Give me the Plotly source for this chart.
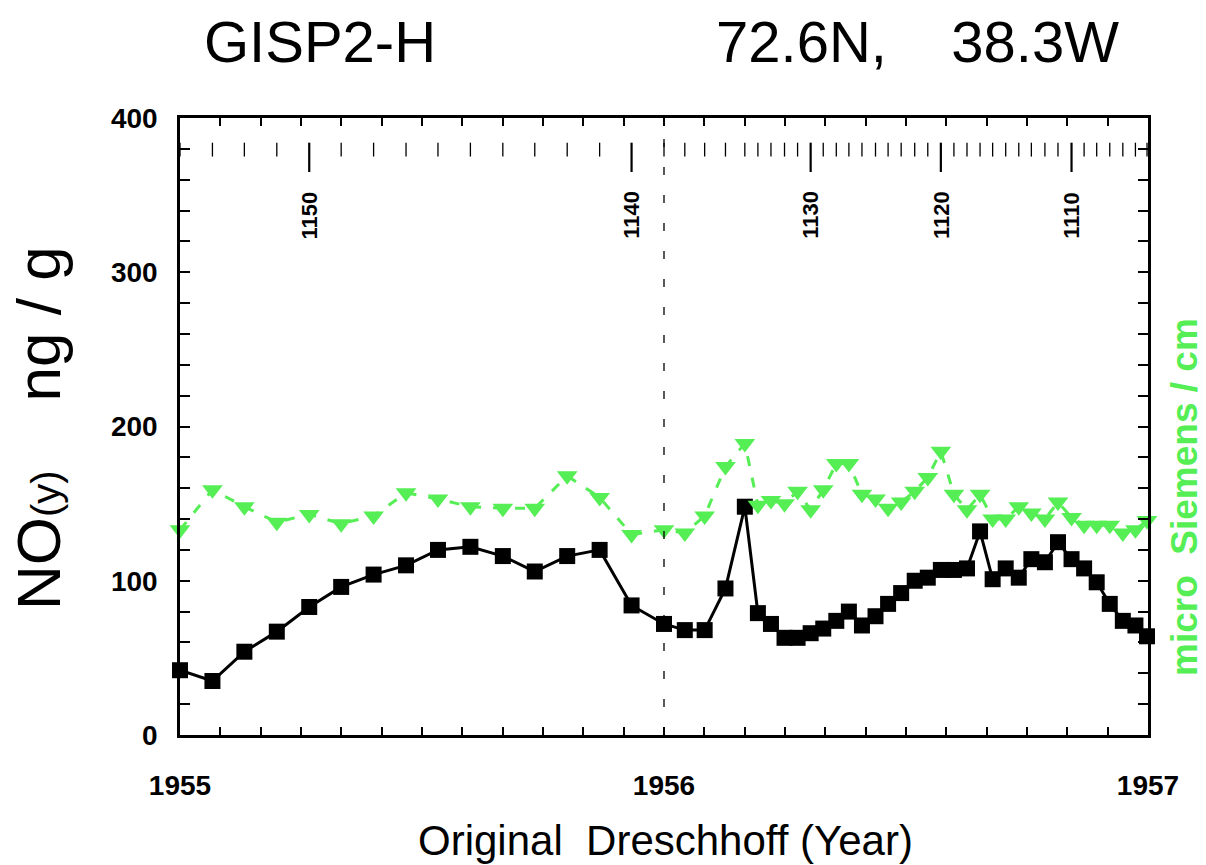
import plotly.graph_objects as go

# ---- data ----
dates = [1955.000, 1955.067, 1955.133, 1955.200, 1955.267, 1955.333, 1955.400, 1955.467,
         1955.533, 1955.600, 1955.667, 1955.733, 1955.800, 1955.867, 1955.933, 1956.000,
         1956.043, 1956.084, 1956.127, 1956.167, 1956.194, 1956.221, 1956.249, 1956.276,
         1956.303, 1956.329, 1956.356, 1956.382, 1956.409, 1956.437, 1956.463, 1956.490,
         1956.518, 1956.545, 1956.572, 1956.599, 1956.626, 1956.653, 1956.679, 1956.706,
         1956.733, 1956.759, 1956.787, 1956.814, 1956.842, 1956.868, 1956.894, 1956.921,
         1956.948, 1956.974, 1956.998]

ages = [1154, 1153, 1152, 1151, 1150, 1149, 1148, 1147, 1146, 1145, 1144, 1143, 1142,
        1141, 1140, 1139, 1138, 1137, 1136, 1135, 1134, 1133, 1132, 1131, 1130, 1129,
        1128, 1127, 1126, 1125, 1124, 1123, 1122, 1121, 1120, 1119, 1118, 1117, 1116,
        1115, 1114, 1113, 1112, 1111, 1110, 1109, 1108, 1107, 1106, 1105, 1104]

noy = [42, 35, 54, 67, 83, 96, 104, 110, 120, 122, 116, 106, 116, 120, 84, 72,
       68, 68, 95, 148, 79, 72, 63, 63, 66, 69, 74, 80, 71, 77, 85, 92, 100, 102,
       107, 107, 108, 132, 101, 108, 102, 114, 112, 125, 114, 108, 99, 85, 74, 71, 64]

conductivity = [133, 159, 148, 138, 143, 137, 142, 157, 153, 148, 147, 147, 168, 154, 130, 133,
                131, 142, 174, 189, 149, 152, 150, 158, 146, 159, 176, 176, 156, 153, 147,
                151, 158, 167, 184, 156, 146, 156, 140, 140, 148, 144, 140, 151, 141, 136,
                136, 136, 131, 133, 139]

year_ticks = [1955, 1956, 1957]
year_labels = ["1955", "1956", "1957"]

GREEN = "#55ee55"
FONT = "Liberation Sans, Arial, sans-serif"

W, H = 1206, 865
L, R, T, B = 180, 58, 118, 130
PW, PH = W - L - R, H - T - B


def px(x):
    return (x - L) / PW


def py(y):
    return (H - B - y) / PH


fig = go.Figure()

fig.add_trace(go.Scatter(
    x=dates, y=noy, mode="lines+markers",
    line=dict(color="black", width=3),
    marker=dict(symbol="square", size=16, color="black"),
    cliponaxis=False, showlegend=False))

fig.add_trace(go.Scatter(
    x=dates, y=conductivity, mode="lines+markers",
    line=dict(color=GREEN, width=3, dash="10px,12px"),
    marker=dict(symbol="triangle-down", size=18, color=GREEN),
    cliponaxis=False, showlegend=False))

shapes = []
annotations = []

# age (depth-scale) tick marks inside plot
for d, a in zip(dates, ages):
    major = (a % 10 == 0)
    shapes.append(dict(type="line", xref="x", yref="y", x0=d, x1=d,
                       y0=384, y1=(365 if major else 375),
                       line=dict(color="black", width=2.2 if major else 1.3)))
    if major:
        annotations.append(dict(x=d, y=337, xref="x", yref="y", text="<b>%d</b>" % a,
                                textangle=-90, showarrow=False,
                                font=dict(family=FONT, size=22, color="black"),
                                xanchor="center", yanchor="middle"))

# vertical dashed line at 1956
shapes.append(dict(type="line", xref="x", yref="paper", x0=1956, x1=1956, y0=0, y1=1,
                   line=dict(color="black", width=1.3, dash="8px,20px")))

annotations += [
    dict(x=px(320), y=py(42), xref="paper", yref="paper", text="GISP2-H",
         showarrow=False, font=dict(family=FONT, size=58, color="black"),
         xanchor="center", yanchor="middle"),
    dict(x=px(917), y=py(42), xref="paper", yref="paper",
         text="72.6N,\u00a0\u00a0\u00a0\u00a038.3W",
         showarrow=False, font=dict(family=FONT, size=58, color="black"),
         xanchor="center", yanchor="middle"),
    dict(x=px(38), y=py(428), xref="paper", yref="paper",
         text="NO<span style='font-size:40px'>(y)</span>\u00a0\u00a0\u00a0\u00a0ng / g",
         textangle=-90, showarrow=False,
         font=dict(family=FONT, size=62, color="black"),
         xanchor="center", yanchor="middle"),
    dict(x=px(1184), y=py(497), xref="paper", yref="paper",
         text="<b>micro\u00a0\u00a0Siemens / cm</b>", textangle=-90, showarrow=False,
         font=dict(family=FONT, size=37, color=GREEN),
         xanchor="center", yanchor="middle"),
    dict(x=px(665), y=py(840), xref="paper", yref="paper",
         text="Original\u00a0\u00a0Dreschhoff (Year)", showarrow=False,
         font=dict(family=FONT, size=42, color="black"),
         xanchor="center", yanchor="middle"),
]

fig.update_layout(
    width=W, height=H,
    margin=dict(l=L, r=R, t=T, b=B),
    paper_bgcolor="white", plot_bgcolor="white",
    shapes=shapes, annotations=annotations,
    font=dict(family=FONT, color="black"),
    xaxis=dict(range=[1955, 1957], tickvals=year_ticks, ticktext=year_labels,
               ticks="inside", ticklen=8, tickwidth=2, tickcolor="black",
               minor=dict(dtick=1 / 12, tick0=1955, ticks="inside", ticklen=8,
                          tickwidth=1.5, tickcolor="black", showgrid=False),
               showline=True, linewidth=2.5, linecolor="black", mirror="allticks",
               showgrid=False, zeroline=False,
               tickfont=dict(family=FONT, size=28, color="black", weight="bold"),
               ticklabelstandoff=24),
    yaxis=dict(range=[0, 400], dtick=100, tick0=0,
               ticks="inside", ticklen=10, tickwidth=2, tickcolor="black",
               minor=dict(dtick=20, ticks="inside", ticklen=10, tickwidth=1.5,
                          tickcolor="black", showgrid=False),
               showline=True, linewidth=2.5, linecolor="black", mirror="allticks",
               showgrid=False, zeroline=False,
               tickfont=dict(family=FONT, size=28, color="black", weight="bold"),
               ticklabelstandoff=14),
)

fig.write_html("out.html", config={"displayModeBar": False},
               post_script="document.body.style.margin='0';")
